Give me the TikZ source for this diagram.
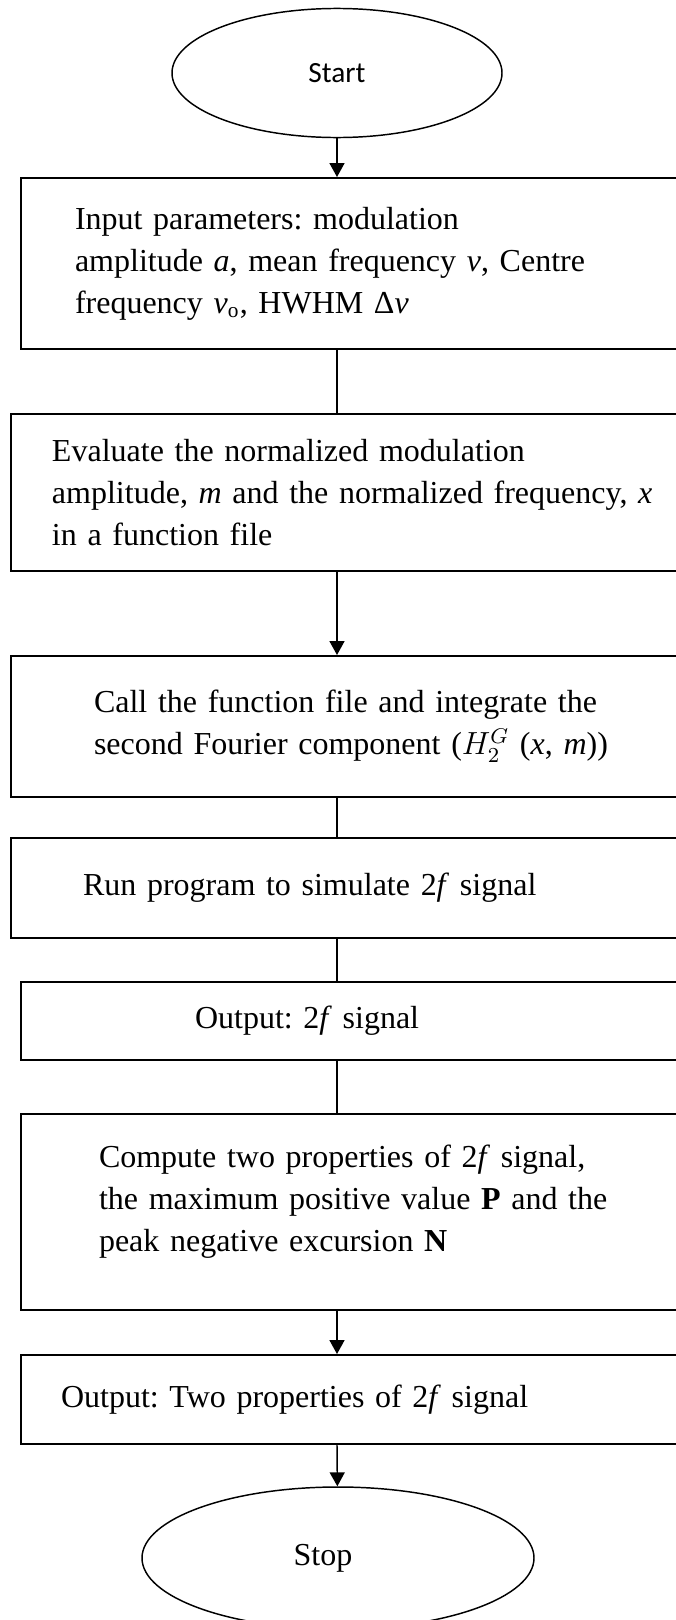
\documentclass[tikz,border=0pt]{standalone}
\usepackage{fontspec}
\setmainfont{Liberation Serif}
\newfontfamily\calibri{Carlito}
\frenchspacing
\usetikzlibrary{shapes.geometric,arrows.meta}

\tikzset{
    stepbox/.style={draw, rectangle, line width=0.75pt, anchor=north west,
        align=left, inner ysep=2pt, font=\fontsize{12}{15.75}\selectfont},
    terminal/.style={draw, ellipse, line width=0.55pt, inner sep=0pt},
    flow/.style={line width=0.55pt},
    flowarrow/.style={flow, -{Triangle[width=5.6pt,length=5.2pt]}}
}

\begin{document}
\begin{tikzpicture}[x=0.375pt, y=-0.375pt]
    \useasboundingbox (0,0) rectangle (676,1620);

    % Terminals
    \node[terminal, minimum width=123.75pt, minimum height=48.4pt,
        font=\calibri\fontsize{11}{13}\selectfont] (start) at (337,73) {Start};
    \node[terminal, minimum width=147pt, minimum height=53.25pt,
        font=\fontsize{12}{14}\selectfont] (stop) at (338,1558) {Stop\hspace*{11.25pt}};

    % Process steps (right edges run off the page)
    \node[stepbox, minimum height=64.125pt, inner xsep=20.25pt, text width=227.25pt] (input) at (20,177)
        {Input parameters: modulation\\
         amplitude \textit{a}, mean frequency \textit{v}, Centre\\
         frequency \textit{v}\textsubscript{o}, HWHM Δ\textit{v}};

    \node[stepbox, minimum height=58.875pt, inner xsep=15.375pt, text width=235.875pt] (eval) at (10,413)
        {Evaluate the normalized modulation\\
         amplitude, \textit{m} and the normalized frequency, \textit{x}\\
         in a function file};

    \node[stepbox, minimum height=52.875pt, inner xsep=31.125pt, text width=220.125pt] (fourier) at (10,655)
        {Call the function file and integrate the\\
         second Fourier component ($H_2^G$ (\textit{x}, \textit{m}))};

    \node[stepbox, minimum height=37.5pt, inner xsep=27pt, text width=224.25pt] (run) at (10,837)
        {Run program to simulate 2\textit{f} signal};

    \node[stepbox, minimum height=29.25pt, inner xsep=65.25pt, text width=182.25pt] (out) at (20,981)
        {Output: 2\textit{f} signal};

    \node[stepbox, minimum height=73.5pt, inner xsep=29.25pt, text width=218.25pt] (props) at (20,1113)
        {Compute two properties of 2\textit{f} signal,\\
         the maximum positive value \textbf{P} and the\\
         peak negative excursion \textbf{N}\\[-5.25pt]\mbox{}};

    \node[stepbox, minimum height=33.375pt, inner xsep=15pt, text width=232.5pt] (outprops) at (20,1354)
        {Output: Two properties of 2\textit{f} signal};

    % Connectors down the middle
    \draw[flowarrow] (start) -- (start |- input.north);
    \draw[flow] (start |- input.south) -- (start |- eval.north);
    \draw[flowarrow] (start |- eval.south) -- (start |- fourier.north);
    \draw[flow] (start |- fourier.south) -- (start |- run.north);
    \draw[flow] (start |- run.south) -- (start |- out.north);
    \draw[flow] (start |- out.south) -- (start |- props.north);
    \draw[flowarrow] (start |- props.south) -- (start |- outprops.north);
    \draw[flowarrow] (start |- outprops.south) -- (stop);

\end{tikzpicture}
\end{document}
